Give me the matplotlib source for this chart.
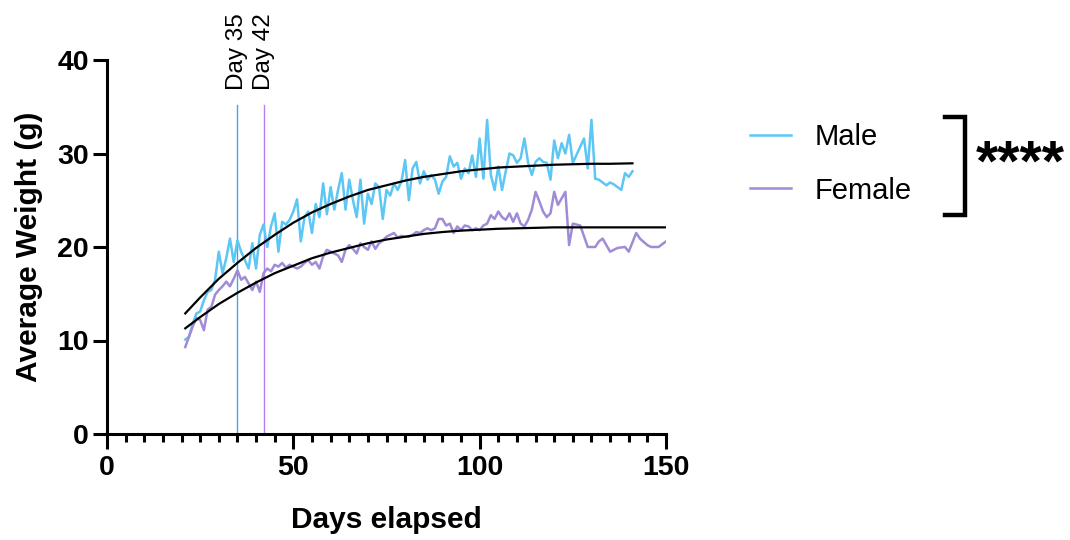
import numpy as np
import matplotlib
matplotlib.use("Agg")
import matplotlib.pyplot as plt
from matplotlib.lines import Line2D

plt.rcParams['font.family'] = ['Liberation Sans', 'DejaVu Sans']

# ---------------- data ----------------
male_days = [21, 22, 23, 24, 25, 26, 27, 28, 29, 30, 31, 32, 33, 34, 35, 36, 37, 38, 39, 40,
             41, 42, 43, 44, 45, 46, 47, 48, 49, 50, 51, 52, 53, 54, 55, 56, 57, 58, 59, 60,
             61, 62, 63, 64, 65, 66, 67, 68, 69, 70, 71, 72, 73, 74, 75, 76, 77, 78, 79, 80,
             81, 82, 83, 84, 85, 86, 87, 88, 89, 90, 91, 92, 93, 94, 95, 96, 97, 98, 99, 100,
             101, 102, 103, 104, 105, 106, 107, 108, 109, 110, 111, 112, 113, 114, 115, 116, 117, 118, 119, 120,
             121, 122, 123, 124, 125, 128, 129, 130, 131, 132, 134, 135, 136, 138, 139, 140, 141]
male_weight = [10.1, 10.4, 11.8, 12.9, 13.1, 14.3, 15.2, 15.4, 16.5, 19.5, 17.2, 18.8, 20.9, 18.4, 20.7, 19.5, 18.6, 17.7, 20.4, 17.7,
               21.3, 22.4, 20.0, 22.2, 23.6, 19.5, 22.7, 22.4, 22.9, 23.8, 25.1, 20.6, 23.2, 23.8, 21.5, 24.6, 23.2, 26.8, 23.5, 26.4,
               24.0, 26.1, 27.9, 24.0, 27.2, 25.0, 23.2, 27.2, 22.5, 25.7, 24.6, 26.8, 26.4, 23.0, 26.1, 25.5, 26.8, 26.1, 27.0, 29.3,
               25.0, 28.4, 29.1, 26.8, 28.1, 27.2, 27.7, 27.2, 25.7, 27.0, 27.5, 29.7, 28.6, 29.0, 27.3, 28.4, 27.9, 29.8, 27.5, 31.6,
               27.3, 33.6, 27.7, 26.1, 28.6, 26.1, 28.1, 30.0, 29.8, 29.0, 29.5, 31.6, 29.0, 27.7, 29.1, 29.5, 29.1, 29.0, 27.2, 31.4,
               29.5, 31.1, 30.0, 32.0, 29.0, 31.6, 28.4, 33.6, 27.3, 27.2, 26.6, 26.9, 26.7, 26.1, 27.9, 27.5, 28.1]

female_days = [21, 22, 23, 24, 25, 26, 27, 28, 29, 30, 31, 32, 33, 34, 35, 36, 37, 38, 39, 40,
               41, 42, 43, 44, 45, 46, 47, 48, 49, 50, 51, 52, 53, 54, 55, 56, 57, 58, 59, 60,
               61, 62, 63, 64, 65, 66, 67, 68, 69, 70, 71, 72, 73, 74, 75, 76, 77, 78, 79, 80,
               81, 82, 83, 84, 85, 86, 87, 88, 89, 90, 91, 92, 93, 94, 95, 96, 97, 98, 99, 100,
               101, 102, 103, 104, 105, 106, 107, 108, 109, 110, 111, 112, 113, 114, 115, 116, 117, 118, 119, 120,
               121, 122, 123, 124, 125, 127, 129, 131, 132, 133, 134, 135, 137, 139, 140, 142, 143, 145, 146, 148,
               149, 150]
female_weight = [9.3, 10.4, 11.5, 12.4, 12.2, 11.1, 13.3, 13.6, 14.9, 15.4, 15.8, 16.3, 15.8, 16.6, 17.5, 16.5, 16.8, 16.1, 15.4, 16.3,
                 15.2, 17.2, 17.7, 17.4, 18.1, 17.9, 18.3, 17.8, 18.1, 17.9, 17.7, 17.9, 18.3, 18.6, 18.1, 18.4, 17.7, 19.0, 19.7, 19.5,
                 19.3, 19.1, 18.4, 19.7, 20.2, 19.8, 19.3, 20.4, 20.0, 19.7, 20.6, 19.8, 20.4, 20.7, 21.1, 21.3, 21.5, 21.0, 21.2, 21.1,
                 21.1, 21.3, 21.6, 21.5, 21.8, 22.0, 21.8, 22.0, 23.0, 23.0, 22.3, 22.5, 21.5, 22.2, 21.8, 22.3, 22.2, 21.8, 22.0, 21.8,
                 22.3, 22.5, 23.4, 23.0, 23.8, 23.2, 22.9, 23.6, 22.7, 23.6, 22.5, 22.2, 22.9, 24.0, 25.9, 24.9, 23.8, 23.2, 23.6, 25.9,
                 24.5, 25.2, 25.9, 20.2, 22.5, 22.3, 20.0, 20.0, 20.6, 20.9, 20.2, 19.5, 19.9, 20.0, 19.5, 21.5, 20.9, 20.2, 20.0, 20.0,
                 20.3, 20.6]

# fitted curves
male_fit_days = [21, 25, 30, 35, 40, 45, 50, 55, 60, 65, 70, 75, 80, 85, 90, 95, 100, 105, 110, 115, 120, 125, 130, 135, 141]
male_fit = [12.9, 14.6, 16.6, 18.3, 19.9, 21.3, 22.6, 23.7, 24.6, 25.4, 26.1, 26.6, 27.1, 27.5, 27.8, 28.1, 28.3, 28.5,
            28.6, 28.7, 28.8, 28.85, 28.9, 28.9, 28.95]
female_fit_days = [21, 25, 30, 35, 40, 45, 50, 55, 60, 65, 70, 75, 80, 85, 90, 95, 100, 105, 110, 115, 120, 130, 140, 150]
female_fit = [11.3, 12.5, 13.9, 15.1, 16.2, 17.2, 18.0, 18.8, 19.4, 19.9, 20.4, 20.8, 21.1, 21.4, 21.6, 21.75, 21.85,
              21.95, 22.0, 22.05, 22.1, 22.1, 22.1, 22.1]

marker_days = [35, 42]
marker_labels = ["Day 35", "Day 42"]

# ---------------- colours ----------------
c_male = '#5cc6f4'
c_female = '#a08cd6'
c_day = ['#3fa6ee', '#b47ff0']

fig = plt.figure(figsize=(10.7, 5.4), dpi=100)
ax = fig.add_axes([107/1070, 1 - 434/540, (666-107)/1070, (434-60)/540])

l_male, = ax.plot(male_days, male_weight, color=c_male, lw=1.8, label='Male', zorder=3)
l_fem, = ax.plot(female_days, female_weight, color=c_female, lw=1.8, label='Female', zorder=3)
ax.plot(male_fit_days, male_fit, color='black', lw=1.6, zorder=4)
ax.plot(female_fit_days, female_fit, color='black', lw=1.6, zorder=4)

for d, lab, c in zip(marker_days, marker_labels, c_day):
    ax.plot([d, d], [0, 35.2], color=c, lw=1.0, zorder=2)
    ax.text(d, 36.8, lab, rotation=90, ha='center', va='bottom', fontsize=17.5, clip_on=False)

ax.set_xlim(0, 150)
ax.set_ylim(0, 40)
ax.set_xticks([0, 50, 100, 150])
ax.set_xticks(np.arange(0, 151, 5), minor=True)
ax.set_yticks([0, 10, 20, 30, 40])

for s in ['top', 'right']:
    ax.spines[s].set_visible(False)
for s in ['left', 'bottom']:
    ax.spines[s].set_linewidth(2.2)

ax.tick_params(axis='x', which='major', length=11, width=2.2, direction='out', pad=4)
ax.tick_params(axis='x', which='minor', length=6, width=2.2, direction='out')
ax.tick_params(axis='y', which='major', length=10, width=2.2, direction='out', pad=3)
for t in ax.get_xticklabels() + ax.get_yticklabels():
    t.set_fontsize(20.5)
    t.set_fontweight('bold')

ax.set_xlabel('Days elapsed', fontsize=21.5, fontweight='bold', labelpad=18)
ax.set_ylabel('Average Weight (g)', fontsize=21.5, fontweight='bold', labelpad=10)

# legend
leg = ax.legend(handles=[l_male, l_fem], loc='upper left', bbox_to_anchor=(750/1070, 1 - 123/540),
                bbox_transform=fig.transFigure, frameon=False, fontsize=21,
                handlelength=1.4, handletextpad=0.8, labelspacing=0.88, borderpad=0, borderaxespad=0)

# significance bracket
bx = 965/1070
fig.add_artist(Line2D([945/1070, bx, bx, 945/1070], [1 - 117/540, 1 - 117/540, 1 - 215/540, 1 - 215/540],
                      color='black', lw=3.2, solid_joinstyle='miter'))
fig.text(1020/1070, 1 - 166/540, '****', ha='center', va='center', fontsize=41, fontweight='bold')

fig.savefig('out.png', dpi=100)
